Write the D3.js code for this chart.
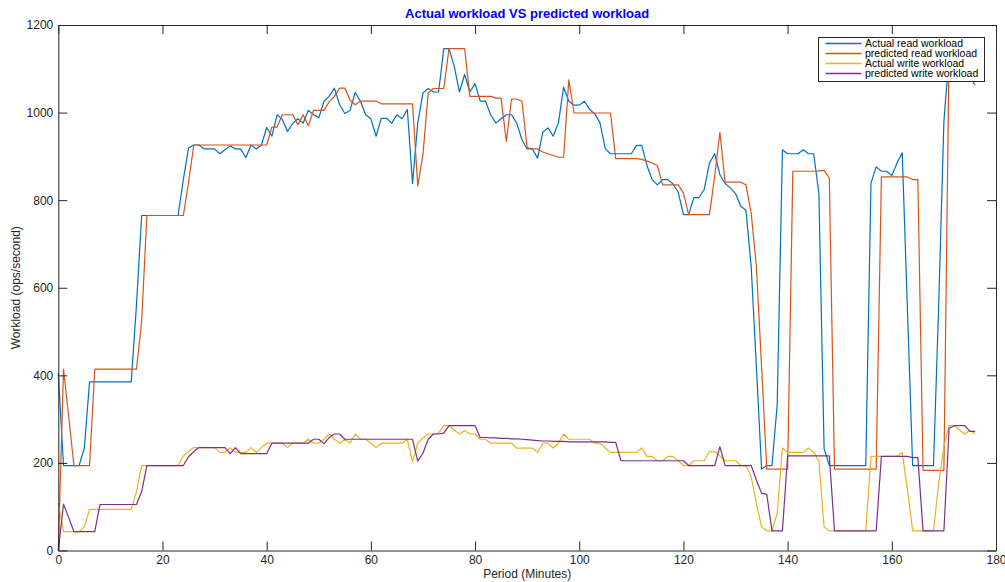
<!DOCTYPE html>
<html>
<head>
<meta charset="utf-8">
<script src="https://cdn.jsdelivr.net/npm/d3@7"></script>
<style>
  body { margin: 0; background: #fff; }
  svg { font-family: "Liberation Sans", Arial, Helvetica, sans-serif; }
</style>
</head>
<body>
<section></section>
<script>
// minutes 0..176, one sample per minute
const actualRead = [
  405, 194, 194, 194, 194, 234, 385, 385, 385, 385,
  385, 385, 385, 385, 385, 560, 765, 765, 765, 765,
  765, 765, 765, 765, 847, 919, 926, 926, 917, 917,
  917, 906, 915, 924, 917, 917, 897, 926, 917, 926,
  966, 946, 995, 984, 957, 975, 986, 976, 1005, 995,
  988, 1026, 1037, 1056, 1018, 998, 1005, 1046, 1026, 995,
  986, 946, 987, 987, 976, 995, 986, 1007, 838, 976,
  1045, 1055, 1047, 1047, 1146, 1146, 1106, 1047, 1087, 1047,
  1066, 1026, 1026, 995, 976, 986, 995, 995, 976, 938,
  917, 917, 896, 955, 965, 946, 976, 1058, 1026, 1017,
  1017, 1026, 1007, 997, 976, 917, 906, 906, 906, 906,
  906, 925, 925, 879, 847, 835, 847, 847, 837, 818,
  767, 767, 806, 806, 825, 885, 906, 858, 838, 828,
  815, 786, 777, 649, 420, 186, 194, 194, 333, 915,
  906, 906, 906, 915, 906, 906, 816, 233, 194, 194,
  194, 194, 194, 194, 194, 194, 839, 876, 866, 866,
  856, 885, 908, 550, 194, 194, 194, 194, 194, 560,
  980, 1130, 1140, 1120, 1100, 1080, 1063
];
const predictedRead = [
  0, 414, 306, 194, 194, 194, 194, 414, 414, 414,
  414, 414, 414, 414, 414, 414, 523, 765, 765, 765,
  765, 765, 765, 765, 765, 840, 926, 926, 926, 926,
  926, 926, 926, 926, 926, 926, 926, 926, 926, 926,
  926, 967, 967, 995, 995, 995, 972, 995, 970, 1005,
  1005, 1005, 1025, 1037, 1056, 1056, 1028, 1018, 1026, 1026,
  1026, 1026, 1020, 1020, 1020, 1020, 1020, 1020, 1020, 832,
  904, 1045, 1055, 1055, 1055, 1146, 1146, 1146, 1146, 1037,
  1037, 1037, 1037, 1037, 1033, 1033, 934, 1031, 1031, 1026,
  920, 917, 917, 910, 906, 902, 898, 898, 1075, 999,
  999, 999, 999, 999, 999, 999, 999, 895, 895, 895,
  895, 895, 893, 889, 885, 879, 835, 835, 835, 835,
  816, 767, 767, 767, 767, 767, 855, 955, 841, 841,
  841, 841, 835, 771, 649, 420, 186, 186, 186, 186,
  186, 866, 866, 866, 866, 866, 867, 868, 851, 186,
  186, 186, 186, 186, 186, 186, 186, 186, 853, 853,
  853, 853, 853, 853, 847, 847, 183, 183, 183, 183,
  183, 1150, 1160, 1160, 1150, 1140, 1130
];
const actualWrite = [
  108, 43, 43, 43, 43, 54, 94, 94, 94, 94,
  94, 94, 94, 94, 94, 134, 194, 194, 194, 194,
  194, 194, 194, 194, 216, 226, 235, 235, 235, 235,
  235, 224, 224, 235, 224, 224, 224, 235, 224, 235,
  245, 245, 245, 245, 235, 245, 245, 245, 254, 245,
  245, 254, 266, 254, 245, 254, 245, 266, 254, 254,
  245, 235, 245, 245, 245, 245, 245, 254, 203, 245,
  257, 266, 266, 268, 285, 285, 275, 266, 274, 266,
  266, 254, 254, 245, 245, 245, 245, 245, 234, 234,
  234, 234, 224, 245, 245, 234, 245, 266, 254, 254,
  254, 254, 254, 245, 245, 234, 224, 224, 224, 224,
  224, 224, 234, 215, 215, 205, 205, 215, 215, 205,
  194, 194, 205, 205, 205, 226, 226, 216, 205, 205,
  205, 194, 194, 169, 108, 54, 45, 45, 85, 234,
  224, 224, 224, 224, 234, 224, 205, 54, 45, 45,
  45, 45, 45, 45, 45, 45, 215, 215, 215, 215,
  215, 215, 224, 138, 45, 45, 45, 45, 45, 153,
  237, 285, 285, 275, 266, 274, 266
];
const predictedWrite = [
  0, 106, 75, 43, 43, 43, 43, 43, 105, 105,
  105, 105, 105, 105, 105, 105, 134, 194, 194, 194,
  194, 194, 194, 194, 194, 214, 226, 235, 235, 235,
  235, 235, 235, 221, 235, 221, 221, 221, 221, 221,
  221, 245, 245, 245, 245, 245, 245, 245, 245, 254,
  254, 244, 258, 266, 266, 254, 254, 254, 254, 254,
  254, 254, 254, 254, 254, 254, 254, 254, 254, 204,
  222, 254, 266, 266, 268, 285, 285, 285, 285, 285,
  285, 258, 258, 257, 257, 256, 256, 255, 255, 254,
  253, 252, 251, 250, 250, 249, 249, 249, 248, 248,
  248, 248, 248, 248, 248, 248, 247, 247, 205, 205,
  205, 205, 205, 205, 205, 205, 205, 205, 205, 205,
  205, 194, 194, 194, 194, 194, 194, 237, 194, 194,
  194, 194, 194, 194, 161, 131, 128, 45, 45, 45,
  216, 216, 216, 216, 216, 216, 216, 216, 216, 45,
  45, 45, 45, 45, 45, 45, 45, 45, 215, 215,
  215, 215, 215, 215, 212, 212, 45, 45, 45, 45,
  45, 279, 285, 285, 285, 272, 272
];
const minutes = actualRead.map((d, i) => i);
const seriesNames = ["Actual read workload", "predicted read workload", "Actual write workload", "predicted write workload"];
const colors = ["#0072BD", "#D95319", "#EDB120", "#7E2F8E"];
const xTicks = [0, 20, 40, 60, 80, 100, 120, 140, 160, 180];
const yTicks = [0, 200, 400, 600, 800, 1000, 1200];

const svgWidth = 1005, svgHeight = 582;
const plot = { left: 58.3, right: 996, top: 25, bottom: 550.5 };
const axisColor = "#262626";

const svg = d3.select("section").append("svg")
  .attr("width", svgWidth)
  .attr("height", svgHeight);

const x = d3.scaleLinear().domain([0, 180]).range([plot.left, plot.right]);
const y = d3.scaleLinear().domain([0, 1200]).range([plot.bottom, plot.top]);

// lines first, axes on top
const allSeries = [actualRead, predictedRead, actualWrite, predictedWrite];
const line = d3.line().x((d, i) => x(minutes[i])).y(d => y(d));
svg.append("g")
  .selectAll("path")
  .data(allSeries)
  .enter()
  .append("path")
  .attr("d", d => line(d))
  .attr("fill", "none")
  .attr("stroke", (d, i) => colors[i])
  .attr("stroke-width", 1.2)
  .attr("stroke-linejoin", "round");

function styleAxis(g) {
  g.select(".domain").attr("stroke", axisColor).attr("stroke-width", 1);
  g.selectAll(".tick line").attr("stroke", axisColor);
  g.selectAll(".tick text").attr("fill", axisColor).style("font-size", "12px");
}

svg.append("g")
  .attr("transform", `translate(0,${plot.bottom})`)
  .call(d3.axisBottom(x).tickValues(xTicks).tickFormat(d3.format("d"))
    .tickSizeInner(-9).tickSizeOuter(0).tickPadding(5))
  .call(styleAxis);
svg.append("g")
  .attr("transform", `translate(0,${plot.top})`)
  .call(d3.axisTop(x).tickValues(xTicks).tickSizeInner(-9).tickSizeOuter(0).tickFormat(""))
  .call(styleAxis);
svg.append("g")
  .attr("transform", `translate(${plot.left},0)`)
  .call(d3.axisLeft(y).tickValues(yTicks).tickFormat(d3.format("d"))
    .tickSizeInner(-9).tickSizeOuter(0).tickPadding(5))
  .call(styleAxis);
svg.append("g")
  .attr("transform", `translate(${plot.right},0)`)
  .call(d3.axisRight(y).tickValues(yTicks).tickSizeInner(-9).tickSizeOuter(0).tickFormat(""))
  .call(styleAxis);

// titles
svg.append("text")
  .attr("x", (plot.left + plot.right) / 2)
  .attr("y", 18)
  .attr("text-anchor", "middle")
  .style("font-size", "13px")
  .style("font-weight", "bold")
  .attr("fill", "#0000FF")
  .text("Actual workload VS predicted workload");
svg.append("text")
  .attr("x", (plot.left + plot.right) / 2)
  .attr("y", 578)
  .attr("text-anchor", "middle")
  .style("font-size", "12px")
  .attr("fill", axisColor)
  .text("Period (Minutes)");
svg.append("text")
  .attr("transform", `translate(20,${(plot.top + plot.bottom) / 2}) rotate(-90)`)
  .attr("text-anchor", "middle")
  .style("font-size", "12px")
  .attr("fill", axisColor)
  .text("Workload (ops/second)");

// legend
const legend = svg.append("g").attr("transform", "translate(818.5,37.5)");
legend.append("rect")
  .attr("width", 166)
  .attr("height", 44)
  .attr("fill", "#fff")
  .attr("stroke", axisColor)
  .attr("stroke-width", 1);
const rows = legend.selectAll("g.row")
  .data(seriesNames)
  .enter()
  .append("g")
  .attr("class", "row")
  .attr("transform", (d, i) => `translate(0,${6 + i * 10})`);
rows.append("line")
  .attr("x1", 7).attr("x2", 43)
  .attr("y1", 0).attr("y2", 0)
  .style("stroke", d => colors[seriesNames.indexOf(d)])
  .style("stroke-width", "1.6px");
rows.append("text")
  .attr("x", 46.5)
  .attr("y", 3.8)
  .style("font-size", "10.5px")
  .attr("fill", "#000")
  .text(d => d);
</script>
</body>
</html>
